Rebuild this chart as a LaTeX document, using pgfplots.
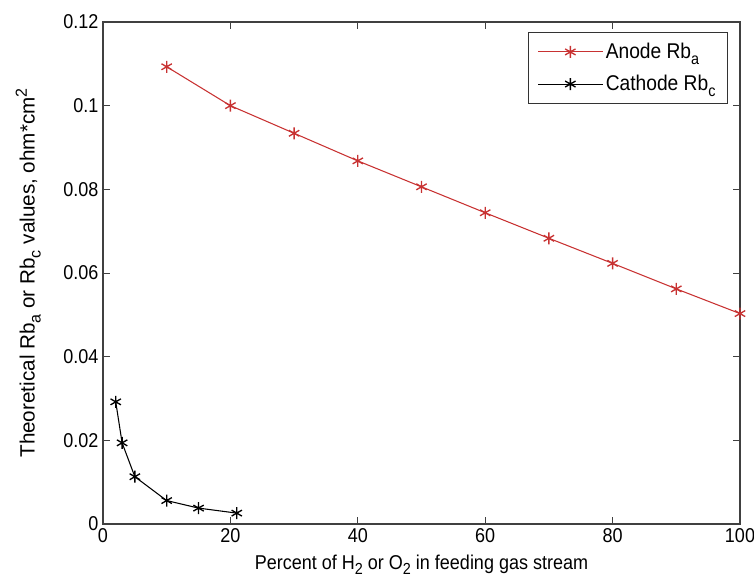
\documentclass[border=0pt]{standalone}
\usepackage{pgfplots}
\pgfplotsset{compat=1.18}
\usepackage{fontspec}
\setmainfont[FakeStretch=0.9]{Liberation Sans}
\newfontfamily\ylfont{Liberation Sans}
\newcommand\sub[1]{\raisebox{-0.55ex}{\fontsize{12}{12}\selectfont #1}}
\newcommand\sups[1]{\raisebox{0.7ex}{\fontsize{12}{12}\selectfont #1}}
\begin{document}
\begin{tikzpicture}
\begin{axis}[
  name=ax,
  scale only axis,
  width=477.75pt, height=376.5pt,
  xmin=0, xmax=100, ymin=0, ymax=0.12,
  xtick={0,20,40,60,80,100},
  ytick={0,0.02,0.04,0.06,0.08,0.1,0.12},
  scaled y ticks=false,
  /pgf/number format/assume math mode=true,
  yticklabel style={/pgf/number format/fixed, /pgf/number format/precision=2},
  tick align=inside,
  major tick length=5pt,
  axis line style={draw=black!75, line width=0.8pt},
  every tick/.style={black!75, line width=0.6pt},
  tick label style={font=\fontsize{15}{17}\selectfont},
  font=\fontsize{15}{17}\selectfont,
  xlabel={Percent of H\sub{2} or O\sub{2} in feeding gas stream},
  ylabel={\ylfont\fontsize{15.5}{17}\selectfont Theoretical Rb\sub{a} or Rb\sub{c} values, ohm*cm\sups{2}},
  xlabel style={yshift=-2pt},
  ylabel style={yshift=10pt},
  legend style={at={(1,1)}, xshift=-9pt, yshift=-7.5pt, anchor=north east,
    draw=black!80, line width=0.8pt, font=\fontsize{16}{18}\selectfont,
    row sep=7pt, inner xsep=7pt, inner ysep=6pt},
  legend image code/.code={\draw[mark repeat=2,mark phase=2] plot coordinates {(0cm,0cm) (0.85cm,0cm) (1.7cm,0cm)};},
  legend cell align=left,
]
\addplot[color={rgb,255:red,200;green,50;blue,50}, line width=0.8pt, mark=asterisk, mark size=4.5pt,
  mark options={line width=1pt}]
  coordinates {(10,0.1093) (20,0.1) (30,0.0934) (40,0.0868) (50,0.0806) (60,0.0744) (70,0.0683) (80,0.0623) (90,0.0562) (100,0.0503)};
\addlegendentry{Anode Rb\sub{a}}
\addplot[color=black, line width=0.8pt, mark=asterisk, mark size=4.5pt,
  mark options={line width=1pt}]
  coordinates {(2,0.0292) (3,0.0194) (5,0.0113) (10,0.0056) (15,0.0038) (21,0.0026)};
\addlegendentry{Cathode Rb\sub{c}}
\end{axis}
\pgfresetboundingbox
\path[use as bounding box] ([shift={(-77.25pt,-46.5pt)}]ax.south west) rectangle ([shift={(10.5pt,16.5pt)}]ax.north east);
\end{tikzpicture}
\end{document}
